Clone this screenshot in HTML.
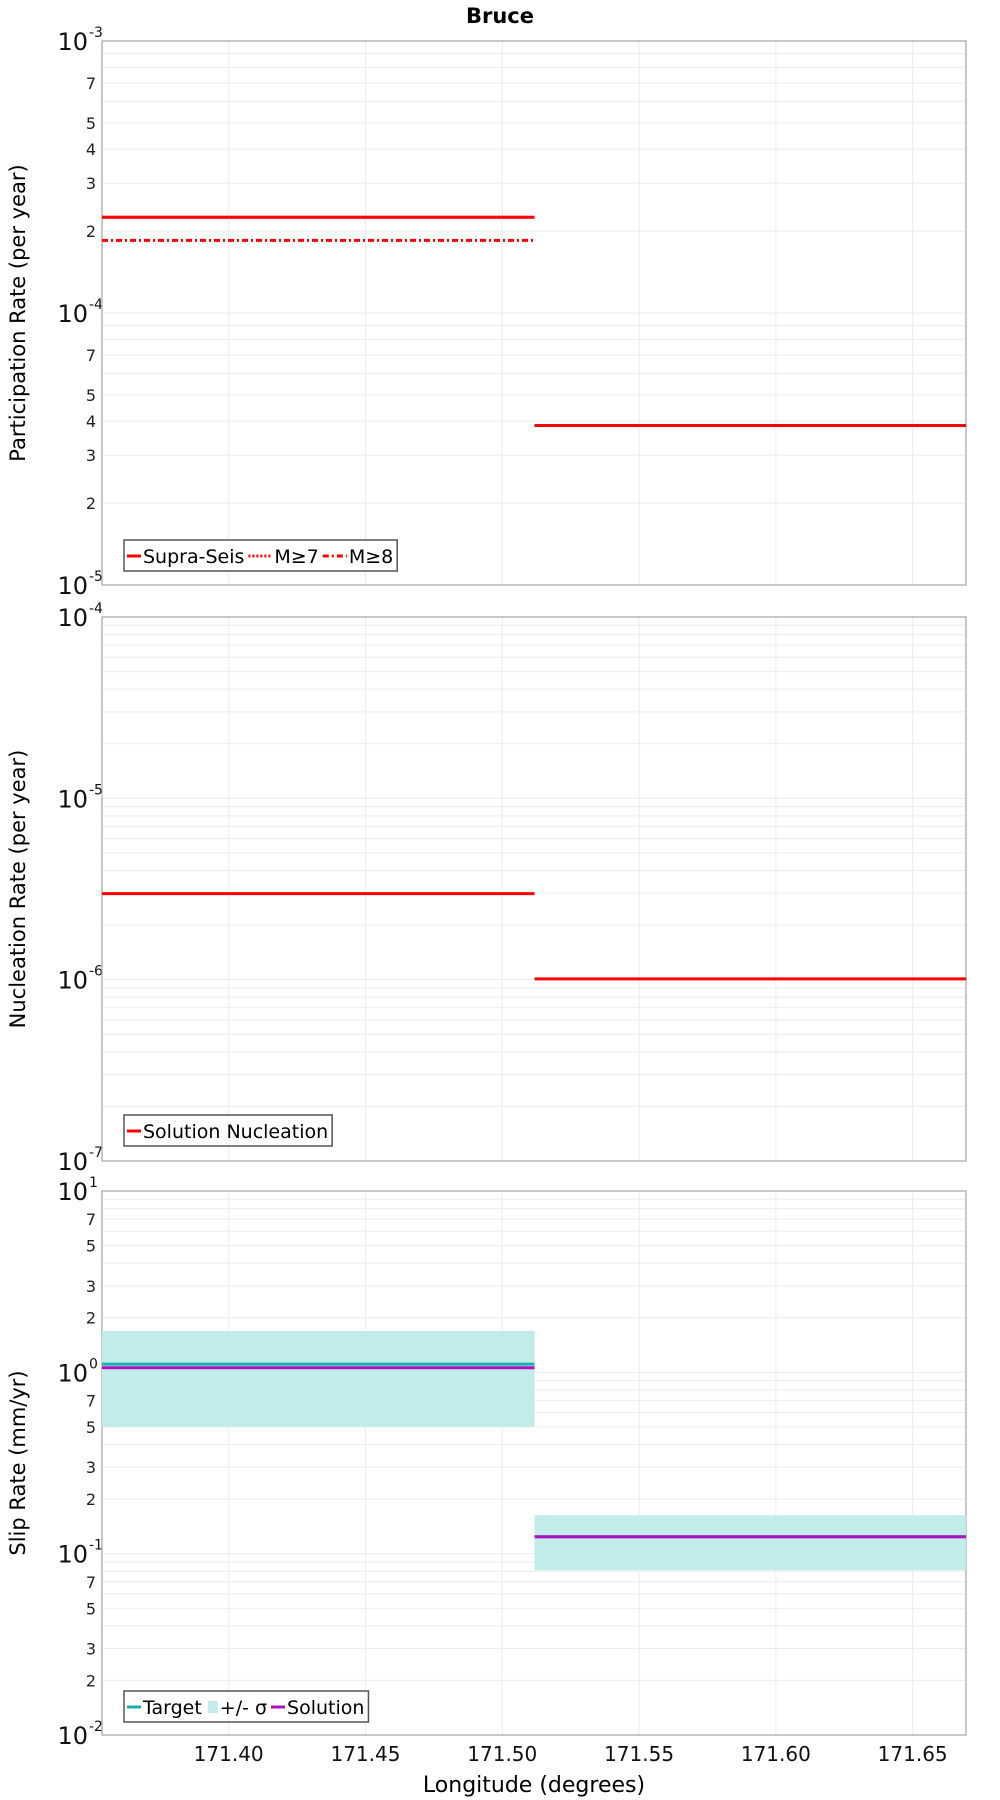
<!DOCTYPE html>
<html><head><meta charset="utf-8"><style>
body{margin:0;background:#fff;}
svg{display:block;font-family:"DejaVu Sans","Liberation Sans",sans-serif;}
</style></head><body>
<svg id="c" width="1000" height="1800" viewBox="0 0 1000 1800">
<text x="500" y="23" text-anchor="middle" font-size="21" font-weight="bold">Bruce</text>
</svg>
<script>
const xTicks=[171.40,171.45,171.50,171.55,171.60,171.65];
const xDomain=[171.3537,171.6695];
const segStart=[171.3537,171.5118];
const segEnd=[171.5118,171.6695];
const partSupra=[2.25e-4,3.86e-5];
const partM8=[1.85e-4,null];
const partM7=[2.25e-4,3.86e-5];
const nuclSol=[2.98e-6,1.01e-6];
const slipTarget=[1.11,0.124];
const slipSolution=[1.06,0.124];
const slipHigh=[1.69,0.163];
const slipLow=[0.50,0.081];
const panelTops=[41,617,1191];
const panelDecades=[[-5,-3],[-7,-4],[-2,1]];
const minorLabels=[[2,3,4,5,7],[],[2,3,5,7]];
const yTitles=["Participation Rate (per year)","Nucleation Rate (per year)","Slip Rate (mm/yr)"];

const NS="http://www.w3.org/2000/svg";
const svg=document.getElementById('c');
const L=102,R=966,H=544;
function el(t,a,p){const e=document.createElementNS(NS,t);for(const k in a)e.setAttribute(k,a[k]);(p||svg).appendChild(e);return e;}
function xs(v){return L+(v-xDomain[0])/(xDomain[1]-xDomain[0])*(R-L);}
function ysF(i){const [a,b]=panelDecades[i];const top=panelTops[i];return v=>top+H*(b-Math.log10(v))/(b-a);}

for(let i=0;i<3;i++){
  const top=panelTops[i],y=ysF(i),[a,b]=panelDecades[i];
  const g=el('g',{});
  
  
  xTicks.forEach(t=>{const l=el('line',{x1:xs(t),x2:xs(t),y1:top,y2:top+H,stroke:'#ececec','stroke-width':1},g);
    });
  for(let d=a;d<b;d++){for(let m=1;m<10;m++){const v=m*Math.pow(10,d);const yy=y(v);
    const l=el('line',{x1:L,x2:R,y1:yy,y2:yy,stroke:'#ececec','stroke-width':1},g);
    
    if(m>1&&minorLabels[i].includes(m)){const t=el('text',{x:96,y:yy+6,'text-anchor':'end','font-size':16,fill:'#222'},g);t.textContent=m;
      }
  }}
  for(let d=a;d<=b;d++){const yy=y(Math.pow(10,d));
    const t=el('text',{x:88,y:yy+9,'text-anchor':'end','font-size':24,fill:'#111'},g);t.textContent='10';
    
    const s=el('text',{x:89,y:yy-4,'text-anchor':'start','font-size':14,fill:'#111'},g);s.textContent=String(d);
    }
  const fr=el('rect',{x:L,y:top,width:R-L,height:H,fill:'none',stroke:'#aaa','stroke-width':1.3},g);
  
  const yt=el('text',{x:0,y:0,'text-anchor':'middle','font-size':21,transform:`translate(25,${top+H/2}) rotate(-90)`},g);
  yt.textContent=yTitles[i];
}
function seg(i,vals,opts,name){const y=ysF(i);vals.forEach((v,k)=>{if(v==null)return;
  const l=el('line',Object.assign({x1:xs(segStart[k]),x2:xs(segEnd[k]),y1:y(v),y2:y(v)},opts));
  });}
seg(0,partM8,{stroke:'#f00','stroke-width':3,'stroke-dasharray':'6 3 2 3'},'m8-line');
seg(0,partM7,{stroke:'#f00','stroke-width':3,'stroke-dasharray':'2 2'},'m7-line');
seg(0,partSupra,{stroke:'#f00','stroke-width':3},'supra-seis-line');
seg(1,nuclSol,{stroke:'#f00','stroke-width':3},'solution-nucleation-line');
{const y=ysF(2);slipHigh.forEach((h,k)=>{const r=el('rect',{x:xs(segStart[k]),y:y(h),width:xs(segEnd[k])-xs(segStart[k]),height:y(slipLow[k])-y(h),fill:'#c2ecea'});
  });}
seg(2,slipTarget,{stroke:'#1aafaf','stroke-width':3},'target-line');
seg(2,slipSolution,{stroke:'#b010c0','stroke-width':3},'solution-line');
xTicks.forEach(t=>{const e=el('text',{x:xs(t),y:1761,'text-anchor':'middle','font-size':20,fill:'#111'});e.textContent=t.toFixed(2);
  });
const xt=el('text',{x:534,y:1792,'text-anchor':'middle','font-size':22});xt.textContent='Longitude (degrees)';

function legend(x,y,items,name){const g=el('g',{});
  const box=el('rect',{x:x,y:y,width:10,height:31,fill:'#fff',stroke:'#555','stroke-width':1.5},g);
  let cx=x+3;items.forEach(it=>{
    if(it.box){el('rect',{x:cx+2,y:y+10,width:10,height:12,fill:it.c},g);cx+=14;}
    else{const l=el('line',{x1:cx,x2:cx+(it.w||16),y1:y+16,y2:y+16,stroke:it.c,'stroke-width':3},g);if(it.d)l.setAttribute('stroke-dasharray',it.d);cx+=(it.w||16)+2;}
    const t=el('text',{x:cx,y:y+23,'font-size':19},g);t.textContent=it.t;
    
    cx+=t.getComputedTextLength()+4;});
  box.setAttribute('width',cx-x);}
legend(124,540,[{c:'#f00',w:14,t:'Supra-Seis'},{c:'#f00',w:24,d:'2 2',t:'M≥7'},{c:'#f00',w:24,d:'6 3 2 3',t:'M≥8'}],'legend-participation');
legend(124,1115,[{c:'#f00',w:14,t:'Solution Nucleation'}],'legend-nucleation');
legend(124,1691,[{c:'#1aafaf',w:14,t:'Target'},{c:'#c2ecea',box:true,t:'+/- σ'},{c:'#b010c0',w:14,t:'Solution'}],'legend-slip');
</script>
</body></html>
